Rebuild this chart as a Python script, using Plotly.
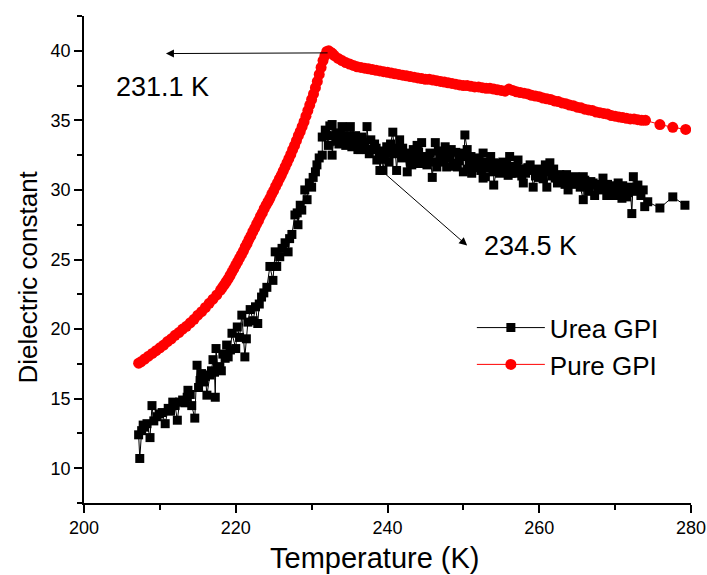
import plotly.graph_objects as go

# Pure GPI (red circles)
pure_T = [207.2, 207.5, 208.0, 208.5, 209.0, 209.5, 210.0, 210.5, 211.0, 211.5,
          212.0, 212.5, 213.0, 213.5, 214.0, 214.5, 215.0, 215.5, 216.0, 216.5,
          217.0, 217.5, 218.0, 218.25, 218.5, 218.75, 219.0, 219.25, 219.5, 219.75,
          220.0, 220.25, 220.5, 220.75, 221.0, 221.25, 221.5, 221.75, 222.0, 222.25,
          222.5, 222.75, 223.0, 223.25, 223.5, 223.75, 224.0, 224.25, 224.5, 224.75,
          225.0, 225.25, 225.5, 225.75, 226.0, 226.25,
          226.5, 226.75, 227.0, 227.25, 227.5, 227.75, 228.0, 228.25, 228.5, 228.75,
          229.0, 229.25, 229.5, 229.75, 230.0, 230.25, 230.5, 230.75, 231.0, 231.25,
          231.5, 231.75, 232.0, 232.25, 232.5, 232.75, 233.0, 233.5, 234.0, 234.5,
          235.0, 235.5, 236.0, 236.5, 237.0, 237.5, 238.0, 238.5, 239.0, 239.5,
          240.0, 240.5, 241.0, 241.5, 242.0, 242.5, 243.0, 243.5, 244.0, 244.5,
          245.0, 245.5, 246.0, 246.5, 247.0, 247.5, 248.0, 248.5, 249.0, 249.5,
          250.0, 250.5, 251.0, 251.5, 252.0, 252.5, 253.0, 253.5, 254.0, 254.5,
          255.0, 255.5, 256.0, 256.5, 257.0, 257.5, 258.0, 258.5, 259.0, 259.5,
          260.0, 260.5, 261.0, 261.5, 262.0, 262.5, 263.0, 263.5, 264.0, 264.5,
          265.0, 265.5, 266.0, 266.5, 267.0, 267.5, 268.0, 268.5, 269.0, 269.5,
          270.0, 270.5, 271.0, 271.5, 272.0, 272.5, 273.0, 273.5, 274.0,
          275.9, 277.6, 279.3]
pure_eps = [17.55, 17.65, 17.85, 18.05, 18.25, 18.45, 18.65, 18.85, 19.1, 19.3,
            19.55, 19.75, 20.0, 20.2, 20.45, 20.7, 21.0, 21.25, 21.55, 21.85,
            22.15, 22.45, 22.8, 23.0, 23.2, 23.4, 23.6, 23.85, 24.1, 24.35,
            24.6, 24.85, 25.1, 25.35, 25.6, 25.9, 26.15, 26.45, 26.7, 27.0,
            27.25, 27.55, 27.8, 28.1, 28.35, 28.65, 28.9, 29.15, 29.4, 29.7,
            29.95, 30.25, 30.5, 30.8, 31.05, 31.35,
            31.65, 31.95, 32.25, 32.55, 32.9, 33.2, 33.55, 33.9, 34.2, 34.55,
            34.9, 35.3, 35.7, 36.1, 36.5, 36.9, 37.35, 37.8, 38.3, 38.8,
            39.3, 39.65, 39.95, 40.0, 39.9, 39.8, 39.65, 39.45, 39.3, 39.15,
            39.05, 38.95, 38.85, 38.8, 38.75, 38.7, 38.65, 38.6, 38.55, 38.5,
            38.45, 38.4, 38.35, 38.3, 38.25, 38.2, 38.15, 38.1, 38.05, 38.0,
            37.95, 37.95, 37.9, 37.85, 37.8, 37.75, 37.7, 37.65, 37.6, 37.55,
            37.5, 37.5, 37.45, 37.4, 37.4, 37.35, 37.3, 37.3, 37.25, 37.2,
            37.15, 37.1, 37.25, 37.15, 37.05, 37.0, 36.95, 36.9, 36.8, 36.75,
            36.7, 36.6, 36.55, 36.5, 36.4, 36.35, 36.25, 36.2, 36.1, 36.05,
            35.95, 35.9, 35.8, 35.75, 35.7, 35.6, 35.55, 35.5, 35.45, 35.35,
            35.3, 35.25, 35.2, 35.15, 35.1, 35.1, 35.05, 35.0, 35.0,
            34.7, 34.5, 34.35]

# Urea GPI (black squares) - noisy, read point by point
urea_T = [207.2, 207.35, 207.6, 207.8, 208.0, 208.3, 208.7, 208.96, 209.2, 209.6,
          209.9, 210.3, 210.7, 211.1, 211.4, 211.7, 212.0, 212.3, 212.6, 213.0,
          213.3, 213.6, 213.7, 214.0, 214.2, 214.6, 214.9, 215.1, 215.3, 215.5,
          215.8, 216.0, 216.2, 216.6, 216.8, 217.0, 217.2, 217.3, 217.4, 217.6,
          217.9, 218.1, 218.3, 218.6, 218.8, 219.0, 219.3, 219.5, 220.0, 220.2,
          220.5, 220.8, 221.2, 221.4, 221.6, 221.9, 222.3, 222.6, 222.9, 223.1,
          223.4, 223.7, 224.1, 224.5, 224.9, 225.2, 225.4, 225.8, 226.1, 226.5,
          226.9, 227.1, 227.4, 227.8, 228.1, 228.2, 228.5, 228.7, 229.1, 229.4,
          229.7, 230.0, 230.2, 230.5, 230.7, 231.0, 231.4, 231.4, 231.8, 232.0,
          232.2, 232.4, 232.7, 232.7, 233.0, 233.3, 233.6, 234.0, 234.3, 234.7,
          235.1, 235.3, 235.5, 235.8, 236.1, 236.4, 236.8, 237.0, 237.3, 237.6,
          238.0, 238.3, 238.6, 239.0, 239.4, 239.6, 239.9, 239.9, 240.2, 240.7,
          241.0, 241.2, 241.6, 241.9, 242.3, 242.6, 243.0, 243.4, 243.9, 244.3,
          244.5, 244.9, 245.2, 245.6, 245.9, 246.3, 246.5, 246.9, 247.2, 247.6,
          247.8, 248.2, 248.6, 249.0, 249.2, 249.6, 250.0, 250.2, 250.5, 250.8,
          251.1, 251.3, 251.7, 252.0, 252.3, 252.6, 252.6, 252.9, 253.3, 253.6,
          254.0, 254.0, 254.4, 254.8, 255.2, 255.5, 255.9, 256.1, 256.5, 256.8,
          257.2, 257.5, 257.9, 258.2, 258.5, 258.8, 259.2, 259.5, 259.8, 260.1,
          260.5, 260.8, 261.0, 261.4, 261.7, 262.1, 262.4, 262.7, 263.1, 263.4,
          263.8, 264.1, 264.4, 264.7, 265.0, 265.4, 265.8, 265.8, 266.2, 266.5,
          266.8, 267.1, 267.3, 267.7, 268.0, 268.4, 268.7, 268.9, 269.3, 269.6,
          270.0, 270.4, 270.7, 270.9, 271.3, 271.7, 272.0, 272.2, 272.4, 273.0,
          273.4, 273.7, 273.9, 274.3, 275.9, 277.6, 279.2,
          # second pass through the dense band above the transition
          233.2, 233.8, 234.5, 235.0, 235.9, 236.6, 237.2, 237.8, 238.5, 238.9,
          239.3, 240.4, 240.9, 241.4, 242.0, 242.8, 243.2, 243.7, 244.1, 244.7,
          245.4, 246.1, 246.7, 247.4, 248.0, 248.4, 248.9, 249.4, 249.9, 250.6,
          251.0, 251.5, 252.2, 253.0, 253.9, 254.6, 255.0, 255.7, 256.3, 257.0,
          257.7, 258.0, 259.0, 259.9, 260.3, 261.2, 261.9, 262.9, 263.6, 264.2,
          265.2, 266.0, 267.5, 268.2, 269.0, 269.8, 271.0, 271.5, 272.7]
urea_eps = [12.4, 10.7, 12.7, 13.1, 12.95, 13.2, 12.2, 14.5, 13.4, 13.7,
            13.9, 14.0, 13.2, 14.3, 14.1, 14.75, 14.5, 13.45, 14.75, 14.9,
            14.7, 15.1, 15.6, 15.3, 14.5, 13.6, 17.4, 15.8, 16.3, 16.8,
            16.2, 16.6, 15.25, 16.7, 17.0, 17.8, 16.9, 15.1, 18.6, 17.2,
            17.3, 17.0, 18.2, 17.9, 18.85, 18.0, 18.5, 19.7, 18.6, 20.15,
            19.4, 21.0, 18.0, 19.3, 20.5, 21.4, 20.6, 21.6, 20.4, 21.8,
            22.3, 22.6, 23.0, 24.5, 23.5, 25.55, 24.5, 25.2, 25.8, 26.2,
            25.55, 26.5, 26.8, 28.2, 28.35, 27.5, 28.9, 28.55, 30.0, 29.3,
            30.5, 30.2, 30.9, 31.3, 31.8, 32.3, 32.5, 33.8, 34.3, 33.9,
            33.2, 34.6, 34.7, 32.5, 33.9, 34.1, 33.3, 34.55, 33.9, 33.6,
            34.55, 33.1, 33.6, 33.9, 32.9, 32.9, 33.4, 33.0, 34.55, 32.6,
            32.9, 33.3, 32.15, 31.4, 31.4, 32.2, 33.1, 32.65, 32.0, 34.15,
            33.0, 31.4, 33.6, 32.3, 32.65, 31.3, 32.0, 32.9, 33.2, 31.9,
            33.4, 32.4, 31.8, 32.65, 30.9, 33.4, 31.65, 32.2, 32.5, 33.1,
            31.65, 32.3, 31.9, 32.7, 31.65, 32.65, 31.3, 33.95, 32.9, 32.0,
            31.2, 32.0, 31.6, 32.3, 31.4, 32.65, 30.85, 30.95, 31.6, 32.4,
            31.95, 30.35, 31.5, 31.2, 32.0, 31.4, 31.05, 32.4, 31.7, 31.2,
            32.15, 31.5, 30.5, 31.2, 31.6, 31.8, 30.2, 31.0, 31.5, 31.3,
            30.8, 31.8, 30.2, 31.95, 31.0, 30.85, 30.5, 31.1, 30.7, 30.4,
            30.0, 30.8, 30.4, 30.95, 30.5, 30.2, 29.3, 30.95, 30.3, 29.9,
            30.6, 30.5, 29.6, 30.1, 30.3, 30.85, 30.2, 29.6, 30.0, 30.3,
            29.6, 30.5, 29.9, 29.4, 30.0, 29.8, 30.2, 28.3, 30.95, 30.35,
            29.6, 30.0, 28.8, 29.15, 28.7, 29.5, 28.9,
            33.5, 34.0, 33.2, 33.9, 33.4, 33.8, 32.9, 33.6, 33.0, 32.6,
            32.8, 33.3, 32.6, 32.9, 33.0, 32.5, 31.8, 32.4, 32.7, 32.0,
            32.3, 32.0, 32.8, 32.0, 32.6, 32.9, 31.7, 32.1, 32.4, 31.5,
            32.4, 32.2, 31.9, 32.0, 31.3, 31.9, 31.6, 31.8, 31.2, 31.6,
            31.0, 31.5, 31.4, 30.9, 31.2, 31.3, 31.5, 30.9, 31.1, 30.5,
            30.6, 30.7, 30.4, 30.0, 30.4, 29.9, 30.3, 29.5, 29.9]

# keep the measurement sweep in temperature order so the thin line follows it
urea_pts = sorted(zip(urea_T, urea_eps), key=lambda p: p[0])

FONT = "Arial, Liberation Sans, sans-serif"

fig = go.Figure()
fig.add_trace(go.Scatter(x=[p[0] for p in urea_pts], y=[p[1] for p in urea_pts],
                         name="Urea GPI", mode="lines+markers",
                         line=dict(color="#000000", width=1),
                         marker=dict(symbol="square", size=9, color="#000000")))
fig.add_trace(go.Scatter(x=pure_T, y=pure_eps, name="Pure GPI", mode="lines+markers",
                         line=dict(color="#ff0000", width=1),
                         marker=dict(symbol="circle", size=11, color="#ff0000")))

axis_style = dict(showline=True, linecolor="black", linewidth=1.5, showgrid=False,
                  zeroline=False, ticks="outside", ticklen=8, tickwidth=1.5, automargin=False,
                  tickcolor="black", tickfont=dict(family=FONT, size=18, color="black"))
fig.update_xaxes(range=[200, 280], tickvals=[200, 220, 240, 260, 280],
                 minor=dict(dtick=10, ticks="outside", ticklen=5, tickwidth=1.5, tickcolor="black"),
                 **axis_style)
fig.update_yaxes(range=[7.5, 42.5], tickvals=[10, 15, 20, 25, 30, 35, 40],
                 minor=dict(dtick=2.5, ticks="outside", ticklen=5, tickwidth=1.5, tickcolor="black"),
                 **axis_style)

# peak arrows and labels
fig.add_annotation(x=210.8, y=39.8, ax=232.3, ay=39.85, xref="x", yref="y", axref="x", ayref="y",
                   text="", showarrow=True, arrowhead=2, arrowsize=1.6, arrowwidth=1, arrowcolor="black")
fig.add_annotation(x=250.5, y=26.0, ax=239.6, ay=31.2, xref="x", yref="y", axref="x", ayref="y",
                   text="", showarrow=True, arrowhead=2, arrowsize=1.6, arrowwidth=1, arrowcolor="black")
fig.add_annotation(x=210.4, y=37.4, text="231.1 K", showarrow=False,
                   font=dict(family=FONT, size=27, color="black"))
fig.add_annotation(x=258.8, y=26.0, text="234.5 K", showarrow=False,
                   font=dict(family=FONT, size=27, color="black"))

# axis titles
fig.add_annotation(x=0, xref="paper", xshift=-56, xanchor="center", y=23.7, yref="y",
                   yanchor="middle", text="Dielectric constant", textangle=-90, showarrow=False,
                   font=dict(family=FONT, size=26, color="black"))
fig.add_annotation(x=238.3, y=0, yref="paper", yshift=-55, yanchor="middle", text="Temperature (K)",
                   showarrow=False, font=dict(family=FONT, size=29, color="black"))

fig.update_layout(
    width=707, height=575,
    margin=dict(l=84, r=16, t=16, b=72),
    paper_bgcolor="white", plot_bgcolor="white",
    showlegend=True,
    legend=dict(x=0.639, y=0.322, xanchor="left", yanchor="middle", bgcolor="rgba(0,0,0,0)",
                font=dict(family=FONT, size=26, color="black"), itemwidth=68,
                tracegroupgap=0),
)

# page body has an 8px default margin; drop it so the figure sits at the window corner
fig.write_html("out.html", config={"displayModeBar": False},
               post_script="document.body.style.margin='0px';")
